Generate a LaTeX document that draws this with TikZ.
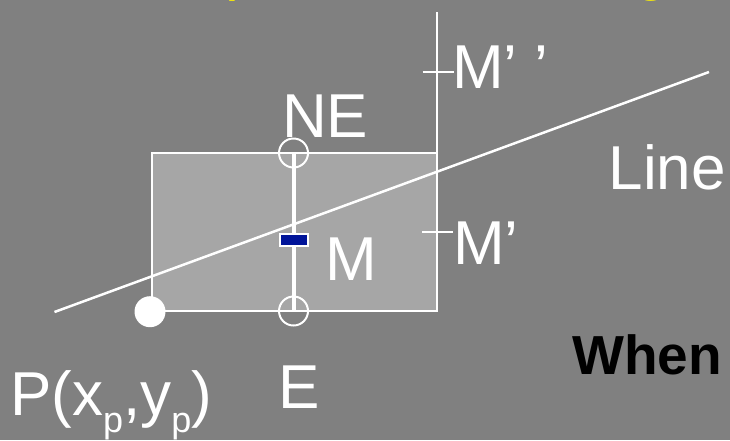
\documentclass[tikz,border=0pt]{standalone}
\usepackage{fontspec}
\setmainfont{Liberation Sans}
\definecolor{bggray}{RGB}{128,128,128}
\definecolor{cellgray}{RGB}{166,166,166}
\definecolor{midblue}{RGB}{0,20,153}
\newcommand{\lowsub}[1]{\raisebox{-17pt}{\fontsize{36}{36}\selectfont #1}}
\begin{document}
\begin{tikzpicture}[x=1pt, y=-1pt,
        lbltext/.style={white, inner sep=0pt, anchor=base west, font=\fontsize{62}{70}\selectfont},
        ringnode/.style={circle, draw=white, line width=2pt, minimum size=29pt, inner sep=0pt},
        dotnode/.style={circle, fill=white, minimum size=31pt, inner sep=0pt},
        midbox/.style={rectangle, draw=white, fill=midblue, line width=2pt, minimum width=28pt, minimum height=12pt, inner sep=0pt},
        ]
                \useasboundingbox[fill=bggray] (0,0) rectangle (730,440);

                \coordinate (BL) at (151.5,310.5);
                \coordinate (TR) at (437,153.3);
                \coordinate (top) at (437,12);
                \coordinate (L1) at (54.5,312);
                \coordinate (L2) at (709,72);
                \coordinate (T1a) at (422.5,72.3);
                \coordinate (T1b) at (453.5,72.3);
                \coordinate (T2a) at (422,231.7);
                \coordinate (T2b) at (453,231.7);

                \draw[-, white, line width=2pt, fill=cellgray] (BL) rectangle (TR);
                \draw[-, white, line width=2pt] (TR) -- (top);
                \draw[-, white, line width=2pt] (T1a) -- (T1b);
                \draw[-, white, line width=2pt] (T2a) -- (T2b);
                \draw[-, white, line width=2.5pt] (L1) -- (L2);

                \node[ringnode] at (293.5,153) (NE) {};
                \node[ringnode] at (293.5,311) (E) {};
                \draw[-, white, line width=4pt] (NE.center) -- (E.center);
                \node[midbox] at (294,240.3) (M) {};
                \node[dotnode] at (150,311.7) (P) {};

                \node[lbltext] at (282,137) (lblNE) {NE};
                \node[lbltext] at (608.5,189) (lblLine) {Line};
                \node[lbltext] at (452,88) (lblMtwo) {M’ ’};
                \node[lbltext] at (453,264) (lblMone) {M’};
                \node[lbltext] at (325.5,280) (lblM) {M};
                \node[lbltext] at (278,408) (lblE) {E};
                \node[lbltext] at (10,415) (lblP) {P(x\lowsub{p},y\lowsub{p})};
                \node[lbltext, black, font=\bfseries\fontsize{55}{60}\selectfont] at (572,374) (lblWhen) {When};

                \node[lbltext, yellow] at (225,-11.5) (ttlp) {p};
                \node[lbltext, yellow] at (634,-11.5) (ttlg) {g};
            \end{tikzpicture}
\end{document}
